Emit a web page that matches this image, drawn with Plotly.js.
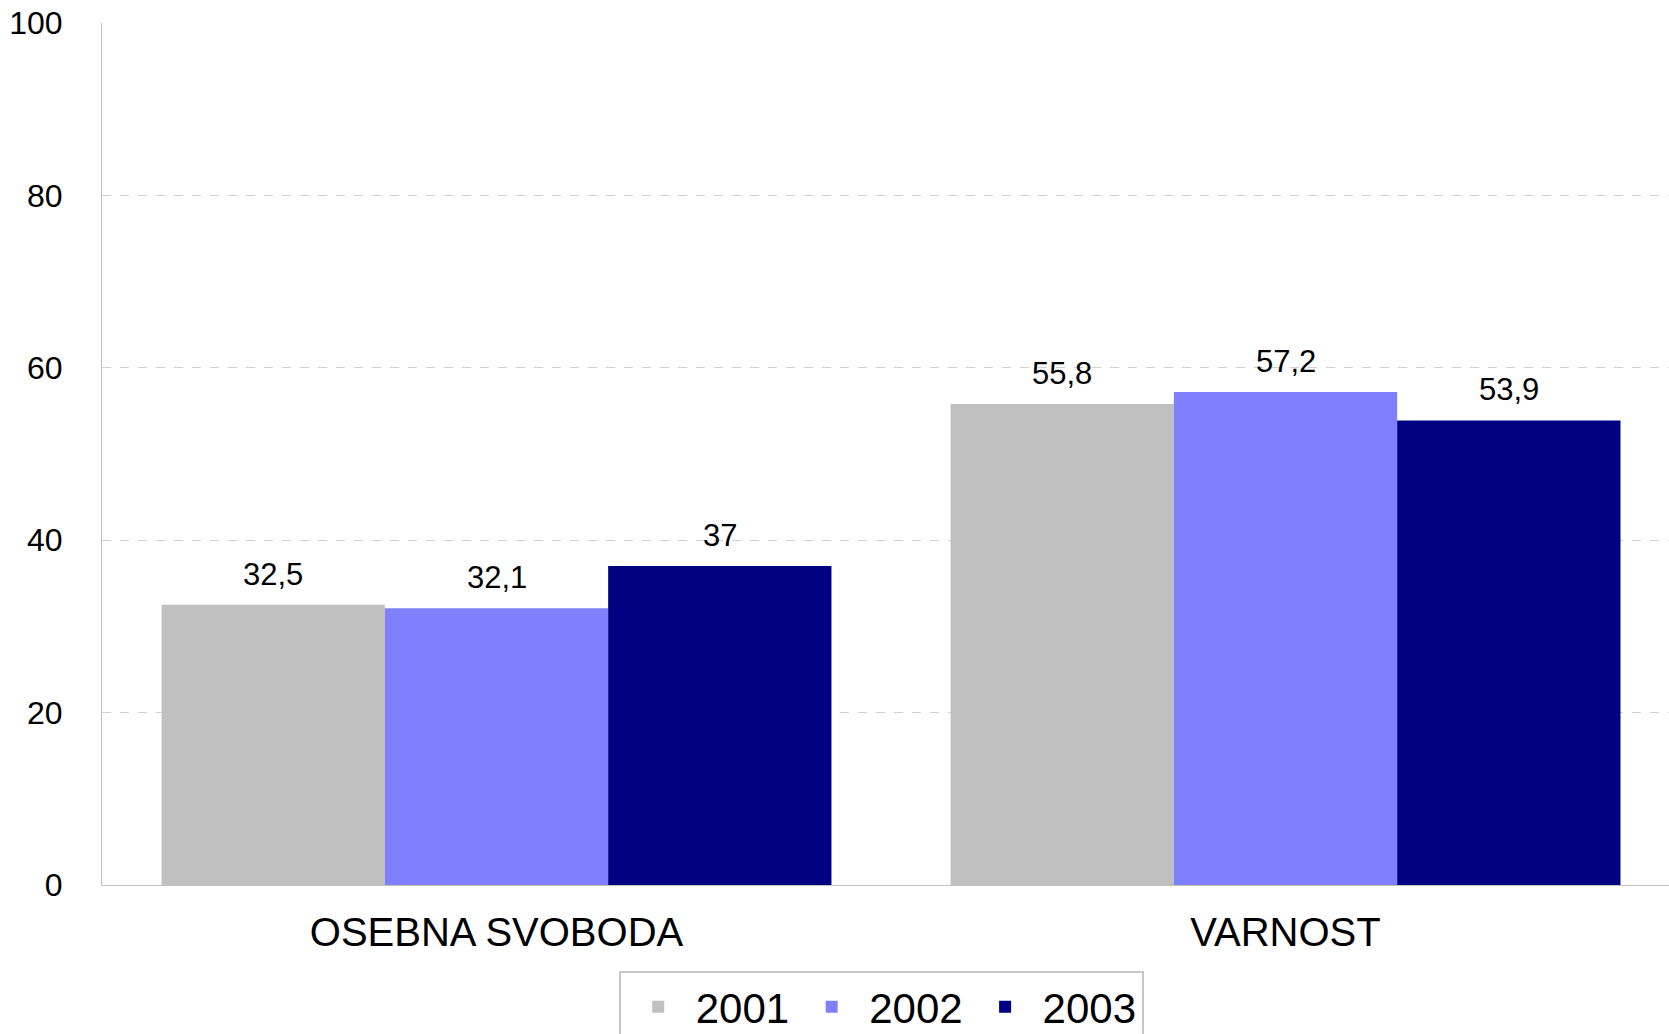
<!DOCTYPE html>
<html>
<head>
<meta charset="utf-8">
<script src="https://cdn.plot.ly/plotly-3.0.1.min.js"></script>
<style>
  html, body { margin: 0; padding: 0; background: #ffffff; }
  #chart { width: 1669px; height: 1034px; }
</style>
</head>
<body>
<div id="chart"></div>
<script>
// ---- data ----
var categories = ["OSEBNA SVOBODA", "VARNOST"];
var seriesNames = ["2001", "2002", "2003"];
var values2001 = [32.5, 55.8];
var values2002 = [32.1, 57.2];
var values2003 = [37, 53.9];
var yTickVals = [0, 20, 40, 60, 80, 100];

// ---- styling ----
var colors = ["#c0c0c0", "#8080ff", "#000080"];
var seriesValues = [values2001, values2002, values2003];
var bargap = 0.151;
var fontFamily = "Liberation Sans, Arial, sans-serif";

function fmt(v) { return String(v).replace(".", ","); }

var traces = seriesValues.map(function (vals, i) {
  return {
    type: "bar",
    name: seriesNames[i],
    x: categories,
    y: vals,
    marker: { color: colors[i], line: { width: 0 } },
    hoverinfo: "skip"
  };
});

// data labels computed from the data and bar layout
var nSeries = seriesValues.length;
var barW = (1 - bargap) / nSeries;
var annotations = [];
seriesValues.forEach(function (vals, i) {
  vals.forEach(function (v, j) {
    annotations.push({
      x: j + (i - (nSeries - 1) / 2) * barW,
      y: v,
      xref: "x",
      yref: "y",
      text: fmt(v),
      showarrow: false,
      yanchor: "bottom",
      xanchor: "center",
      yshift: 11,
      font: { family: fontFamily, size: 31, color: "#000000" }
    });
  });
});

var layout = {
  width: 1669,
  height: 1034,
  margin: { l: 102, r: 0, t: 23, b: 149, pad: 0, autoexpand: false },
  paper_bgcolor: "#ffffff",
  plot_bgcolor: "#ffffff",
  font: { family: fontFamily, color: "#000000" },
  barmode: "group",
  bargap: bargap,
  bargroupgap: 0,
  showlegend: true,
  legend: {
    orientation: "h",
    xref: "container",
    yref: "container",
    x: 0.528,
    xanchor: "center",
    y: 0.061,
    yanchor: "top",
    bordercolor: "#c8c8c8",
    borderwidth: 2,
    bgcolor: "#ffffff",
    font: { family: fontFamily, size: 42, color: "#000000" },
    itemwidth: 65,
    traceorder: "normal"
  },
  xaxis: {
    type: "category",
    range: [-0.5, 1.486],
    automargin: false,
    showgrid: false,
    showline: true,
    linecolor: "#c0c0c0",
    linewidth: 1,
    ticks: "",
    ticklabelstandoff: 12,
    tickfont: { family: fontFamily, size: 40, color: "#000000" },
    zeroline: false,
    fixedrange: true
  },
  yaxis: {
    range: [0, 100],
    automargin: false,
    tickvals: yTickVals,
    ticktext: yTickVals.map(String),
    showgrid: true,
    gridcolor: "#d0d0d0",
    griddash: "dash",
    gridwidth: 1,
    showline: true,
    linecolor: "#c0c0c0",
    linewidth: 1,
    ticks: "",
    ticklabelstandoff: 32,
    tickfont: { family: fontFamily, size: 32, color: "#000000" },
    zeroline: false,
    fixedrange: true
  },
  annotations: annotations
};

Plotly.newPlot("chart", traces, layout, { displayModeBar: false, staticPlot: true });
</script>
</body>
</html>
